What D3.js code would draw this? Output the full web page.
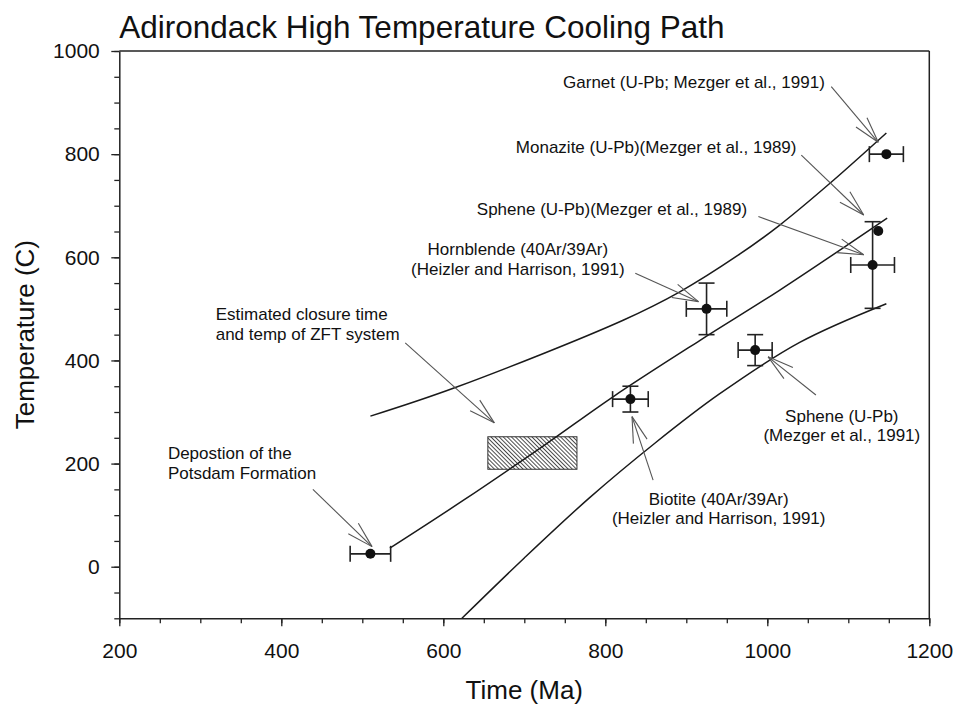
<!DOCTYPE html>
<html>
<head>
<meta charset="utf-8">
<script src="https://cdn.jsdelivr.net/npm/d3@7"></script>
<style>
body { margin: 0; background: #fff; }
svg text { font-family: "Liberation Sans", Arial, sans-serif; fill: #111; }
</style>
</head>
<body>
<div class="chart"></div>
<script>
const width = 956;
const height = 707;
const margin = {top: 51, right: 26.7, bottom: 88.7, left: 119.3};

// cooling path curves, [age Ma, temp C]
const upperPath = [[510,292],[614,347],[822,478],[892,533],[964,604],[1015,662],[1077,743],[1147,841]];
const middlePath = [[534,36],[625,129],[725,236],[810,330],[917,439],[1015,536],[1148,676]];
const lowerPath = [[623,-100],[700,17],[780,133],[860,238],[940,334],[1040,435],[1147,510]];

// dated minerals
const samples = ['Potsdam', 'Biotite', 'Hornblende', 'Sphene 1991', 'Sphene 1989', 'Monazite', 'Garnet'];
const ages = [510, 831, 925, 985, 1130, 1137, 1147];
const temps = [25, 325, 500, 420, 585, 651, 800];
const ageErr = [25, 22, 25, 21, 27, 0, 21];
const tempErr = [0, 25, 50, 30, 84, 0, 0];

// estimated ZFT closure box
const zftAge = [655, 765];
const zftTemp = [189, 252];

const xTicks = [200, 400, 600, 800, 1000, 1200];
const yTicks = [0, 200, 400, 600, 800, 1000];

// labels: text lines, anchor point and arrow (data units)
const notes = [
  {lines: ['Garnet (U-Pb; Mezger et al., 1991)'], x: 1071, y: 928, anchor: 'end', from: [1079, 931], to: [1137, 823]},
  {lines: ['Monazite (U-Pb)(Mezger et al., 1989)'], x: 1036, y: 802, anchor: 'end', from: [1042, 798], to: [1119, 682]},
  {lines: ['Sphene (U-Pb)(Mezger et al., 1989)'], x: 975, y: 682, anchor: 'end', from: [989, 679], to: [1119, 605]},
  {lines: ['Hornblende (40Ar/39Ar)', '(Heizler and Harrison, 1991)'], x: 692, y: 604, anchor: 'middle', from: [837, 569], to: [915, 514]},
  {lines: ['Estimated closure time', 'and temp of ZFT system'], x: 319, y: 478, anchor: 'start', from: [553, 434], to: [663, 279]},
  {lines: ['Depostion of the', 'Potsdam Formation'], x: 260, y: 208, anchor: 'start', from: [439, 150], to: [512, 39]},
  {lines: ['Biotite (40Ar/39Ar)', '(Heizler and Harrison, 1991)'], x: 940, y: 120, anchor: 'middle', from: [859, 168], to: [833, 291]},
  {lines: ['Sphene (U-Pb)', '(Mezger et al., 1991)'], x: 1092, y: 281, anchor: 'middle', from: [1060, 333], to: [1001, 407]}
];

const svg = d3.select('.chart')
  .append('svg')
  .attr('width', width)
  .attr('height', height);

const x = d3.scaleLinear().domain([200, 1200]).range([margin.left, width - margin.right]);
const y = d3.scaleLinear().domain([-100, 1000]).range([height - margin.bottom, margin.top]);

// hatch for the ZFT box
svg.append('defs').append('pattern')
  .attr('id', 'hatch')
  .attr('patternUnits', 'userSpaceOnUse')
  .attr('width', 2.9)
  .attr('height', 10)
  .attr('patternTransform', 'rotate(-45)')
  .append('line')
  .attr('x1', 0.5).attr('x2', 0.5)
  .attr('y1', 0).attr('y2', 10)
  .style('stroke', '#333')
  .style('stroke-width', 0.9);

// title
svg.append('text')
  .attr('x', margin.left)
  .attr('y', 38)
  .style('font-size', '31.5px')
  .text('Adirondack High Temperature Cooling Path');

// minor ticks
svg.append('g')
  .attr('transform', `translate(0,${y(-100)})`)
  .call(d3.axisBottom(x).tickValues(d3.range(200, 1201, 50)).tickSize(5).tickSizeOuter(0).tickFormat(''))
  .call(g => g.select('.domain').remove());
svg.append('g')
  .attr('transform', `translate(${x(200)},0)`)
  .call(d3.axisLeft(y).tickValues(d3.range(-100, 1001, 50)).tickSize(5).tickSizeOuter(0).tickFormat(''))
  .call(g => g.select('.domain').remove());

// major ticks + labels
svg.append('g')
  .attr('transform', `translate(0,${y(-100)})`)
  .call(d3.axisBottom(x).tickValues(xTicks).tickFormat(d3.format('d')).tickSize(8).tickSizeOuter(0).tickPadding(16.5));
svg.append('g')
  .attr('transform', `translate(${x(200)},0)`)
  .call(d3.axisLeft(y).tickValues(yTicks).tickFormat(d3.format('d')).tickSize(8).tickSizeOuter(0).tickPadding(11.5));

svg.selectAll('.tick line').style('stroke', '#222').style('stroke-width', 1.3);
svg.selectAll('.domain').style('stroke', '#222').style('stroke-width', 1.5);
svg.selectAll('.tick text')
  .style('font-size', '21px')
  .style('fill', '#111');

// frame top + right
svg.append('line')
  .attr('x1', x(200)).attr('x2', x(1200))
  .attr('y1', y(1000)).attr('y2', y(1000))
  .style('stroke', '#222').style('stroke-width', 1.5);
svg.append('line')
  .attr('x1', x(1200)).attr('x2', x(1200))
  .attr('y1', y(1000)).attr('y2', y(-100))
  .style('stroke', '#222').style('stroke-width', 1.5);

// axis titles
svg.append('text')
  .attr('x', x(700))
  .attr('y', 699)
  .attr('text-anchor', 'middle')
  .style('font-size', '26px')
  .text('Time (Ma)');
svg.append('text')
  .attr('transform', `translate(34,${y(450)}) rotate(-90)`)
  .attr('text-anchor', 'middle')
  .style('font-size', '26px')
  .text('Temperature (C)');

// ZFT box
svg.append('rect')
  .attr('x', x(zftAge[0]))
  .attr('y', y(zftTemp[1]))
  .attr('width', x(zftAge[1]) - x(zftAge[0]))
  .attr('height', y(zftTemp[0]) - y(zftTemp[1]))
  .style('fill', 'url(#hatch)')
  .style('stroke', '#333')
  .style('stroke-width', 1);

// cooling curves
const line = d3.line()
  .x(d => x(d[0]))
  .y(d => y(d[1]))
  .curve(d3.curveCatmullRom.alpha(0.5));

[upperPath, middlePath, lowerPath].forEach(p => {
  svg.append('path')
    .attr('d', line(p))
    .style('fill', 'none')
    .style('stroke', '#1a1a1a')
    .style('stroke-width', 1.5);
});

// error bars and points
const pts = svg.append('g');
samples.forEach((s, i) => {
  const cx = x(ages[i]), cy = y(temps[i]);
  const cap = 8;
  if (ageErr[i] > 0) {
    const x0 = x(ages[i] - ageErr[i]), x1 = x(ages[i] + ageErr[i]);
    pts.append('line').attr('x1', x0).attr('x2', x1).attr('y1', cy).attr('y2', cy);
    pts.append('line').attr('x1', x0).attr('x2', x0).attr('y1', cy - cap).attr('y2', cy + cap);
    pts.append('line').attr('x1', x1).attr('x2', x1).attr('y1', cy - cap).attr('y2', cy + cap);
  }
  if (tempErr[i] > 0) {
    const y0 = y(temps[i] - tempErr[i]), y1 = y(temps[i] + tempErr[i]);
    pts.append('line').attr('x1', cx).attr('x2', cx).attr('y1', y0).attr('y2', y1);
    pts.append('line').attr('x1', cx - cap).attr('x2', cx + cap).attr('y1', y0).attr('y2', y0);
    pts.append('line').attr('x1', cx - cap).attr('x2', cx + cap).attr('y1', y1).attr('y2', y1);
  }
  pts.append('circle')
    .attr('cx', cx)
    .attr('cy', cy)
    .attr('r', 5)
    .style('fill', '#111');
});
pts.selectAll('line').style('stroke', '#222').style('stroke-width', 1.6);

// annotations with open arrowheads
const ann = svg.append('g');
notes.forEach(n => {
  const t = ann.append('text')
    .attr('x', x(n.x))
    .attr('y', y(n.y))
    .attr('text-anchor', n.anchor)
    .style('font-size', '17px');
  n.lines.forEach((l, k) => {
    t.append('tspan')
      .attr('x', x(n.x))
      .attr('dy', k === 0 ? 0 : 19.5)
      .text(l);
  });
  const fx = x(n.from[0]), fy = y(n.from[1]);
  const tx = x(n.to[0]), ty = y(n.to[1]);
  ann.append('line')
    .attr('x1', fx).attr('y1', fy)
    .attr('x2', tx).attr('y2', ty);
  const a = Math.atan2(fy - ty, fx - tx);
  [-0.27, 0.27].forEach(da => {
    ann.append('line')
      .attr('x1', tx).attr('y1', ty)
      .attr('x2', tx + 27 * Math.cos(a + da))
      .attr('y2', ty + 27 * Math.sin(a + da));
  });
});
ann.selectAll('line').style('stroke', '#555').style('stroke-width', 1.1);
</script>
</body>
</html>
